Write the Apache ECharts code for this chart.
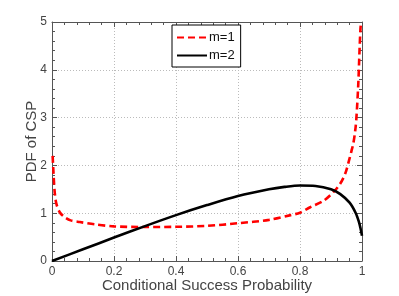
<!DOCTYPE html>
<html>
<head>
<meta charset="utf-8">
<script src="https://cdn.jsdelivr.net/npm/echarts@6/dist/echarts.min.js"></script>
<style>
html,body{margin:0;padding:0;background:#fff;overflow:hidden;}
#c{width:399px;height:296px;position:absolute;left:0;top:0;}
</style>
</head>
<body>
<div id="c"></div>
<script>
const xTicks = [0, 0.2, 0.4, 0.6, 0.8, 1];
const yTicks = [0, 1, 2, 3, 4, 5];
const seriesNames = ['m=1', 'm=2'];

const m1X = [0.002, 0.004, 0.006, 0.009, 0.014, 0.025, 0.04, 0.06, 0.09, 0.14, 0.2, 0.3, 0.4, 0.5, 0.6, 0.7, 0.77, 0.8, 0.833, 0.876, 0.909, 0.93, 0.946, 0.958, 0.966, 0.972, 0.978, 0.982, 0.988, 0.992, 0.995, 0.997];
const m1Y = [2.2, 1.95, 1.7, 1.42, 1.2, 1.02, 0.92, 0.85, 0.815, 0.765, 0.725, 0.71, 0.715, 0.735, 0.79, 0.86, 0.96, 1.01, 1.125, 1.26, 1.45, 1.62, 1.83, 2.1, 2.3, 2.46, 2.72, 3.0, 3.7, 4.4, 4.85, 5.0];

const m2X = [0, 0.1, 0.2, 0.3, 0.4, 0.5, 0.6, 0.7, 0.75, 0.8, 0.85, 0.9, 0.93, 0.96, 0.98, 0.99, 0.995, 1.0];
const m2Y = [0, 0.245, 0.49, 0.73, 0.96, 1.17, 1.36, 1.5, 1.55, 1.58, 1.57, 1.5, 1.4, 1.22, 1.0, 0.82, 0.69, 0.53];

const axisColor = '#555';
const textColor = '#444';
const font = 'Liberation Sans, Arial, Helvetica, sans-serif';

function pairs(xs, ys) { return xs.map((x, i) => [x, ys[i]]); }

const chart = echarts.init(document.getElementById('c'), null, {renderer: 'canvas', width: 399, height: 296});

const baseAxis = {
  type: 'value',
  axisLine: {show: true, onZero: false, lineStyle: {color: axisColor, width: 1}},
  axisTick: {show: true, inside: true, length: 5, lineStyle: {color: axisColor}},
  minorTick: {show: true, splitNumber: 5, length: 3, lineStyle: {color: axisColor}},
  splitLine: {show: false},
  axisLabel: {show: false}
};

chart.setOption({
  animation: false,
  backgroundColor: '#fff',
  grid: {left: 52, right: 37, top: 22, bottom: 35, containLabel: false, outerBoundsMode: 'none'},
  legend: {
    data: seriesNames,
    orient: 'vertical',
    left: 172,
    top: 25,
    itemWidth: 30,
    itemHeight: 10,
    itemGap: 5,
    padding: [6, 6, 5, 4],
    borderColor: '#000',
    borderWidth: 1,
    backgroundColor: '#fff',
    itemStyle: {opacity: 0},
    textStyle: {fontFamily: font, fontSize: 13, color: '#111', padding: [0, 0, 0, -3]},
    selectedMode: false
  },
  xAxis: [
    Object.assign({}, baseAxis, {
      min: xTicks[0], max: xTicks[xTicks.length - 1], interval: 0.2,
      position: 'bottom',
      splitLine: {show: true, lineStyle: {color: '#bbb', type: [1, 2], width: 1}},
      axisLabel: {show: true, color: textColor, fontFamily: font, fontSize: 12, margin: 5,
        formatter: v => String(+v.toFixed(1))},
      name: 'Conditional Success Probability',
      nameLocation: 'middle',
      nameGap: 17,
      nameMoveOverlap: false,
      nameTextStyle: {color: textColor, fontFamily: font, fontSize: 15, verticalAlign: 'top'}
    }),
    Object.assign({}, baseAxis, {
      min: xTicks[0], max: xTicks[xTicks.length - 1], interval: 0.2, position: 'top'
    })
  ],
  yAxis: [
    Object.assign({}, baseAxis, {
      min: yTicks[0], max: yTicks[yTicks.length - 1], interval: 1,
      position: 'left',
      splitLine: {show: true, lineStyle: {color: '#bbb', type: [1, 2], width: 1}},
      axisLabel: {show: true, color: textColor, fontFamily: font, fontSize: 12, margin: 5},
      name: 'PDF of CSP',
      nameLocation: 'middle',
      nameGap: 13,
      nameMoveOverlap: false,
      nameTextStyle: {color: textColor, fontFamily: font, fontSize: 15}
    }),
    Object.assign({}, baseAxis, {
      min: yTicks[0], max: yTicks[yTicks.length - 1], interval: 1, position: 'right'
    })
  ],
  series: [
    {
      name: seriesNames[0], type: 'line', smooth: 0.3, symbol: 'none', clip: true,
      data: pairs(m1X, m1Y),
      lineStyle: {color: '#ff0000', width: 2.6, type: [7, 4]},
      itemStyle: {color: '#ff0000'}, z: 3
    },
    {
      name: seriesNames[1], type: 'line', smooth: 0.3, symbol: 'none', clip: true,
      data: pairs(m2X, m2Y),
      lineStyle: {color: '#000', width: 2.6},
      itemStyle: {color: '#000'}, z: 4
    }
  ]
});
</script>
</body>
</html>
